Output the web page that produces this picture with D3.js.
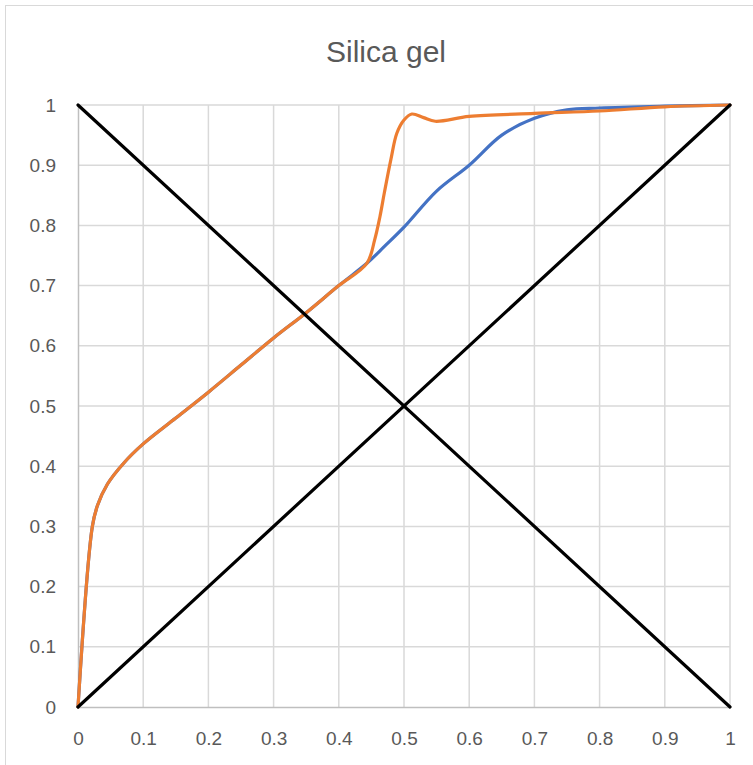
<!DOCTYPE html>
<html>
<head>
<meta charset="utf-8">
<script src="https://cdn.jsdelivr.net/npm/d3@7"></script>
<style>
  body { margin: 0; background: #fff; }
  svg { display: block; font-family: "Liberation Sans", Arial, sans-serif; }
</style>
</head>
<body>
<script>
'use strict';

// chart data
const title = 'Silica gel';
const ticks = [0, 0.1, 0.2, 0.3, 0.4, 0.5, 0.6, 0.7, 0.8, 0.9, 1];

const blueX = [0, 0.022, 0.03, 0.045, 0.07, 0.1, 0.15, 0.2, 0.25, 0.3, 0.35, 0.4, 0.443,
  0.47, 0.5, 0.55, 0.6, 0.65, 0.7, 0.75, 0.8, 0.9, 1];
const blueY = [0, 0.30, 0.335, 0.37, 0.405, 0.437, 0.48, 0.523, 0.568, 0.613, 0.655, 0.70, 0.737,
  0.765, 0.797, 0.857, 0.90, 0.95, 0.978, 0.992, 0.995, 0.998, 1];

const orangeX = [0, 0.022, 0.03, 0.045, 0.07, 0.1, 0.15, 0.2, 0.25, 0.3, 0.35, 0.4, 0.443,
  0.455, 0.463, 0.47, 0.48, 0.489, 0.5, 0.512, 0.53, 0.548, 0.6, 0.7, 0.8, 0.9, 1];
const orangeY = [0, 0.30, 0.335, 0.37, 0.405, 0.437, 0.48, 0.523, 0.568, 0.613, 0.655, 0.70, 0.737,
  0.776, 0.814, 0.855, 0.91, 0.953, 0.975, 0.985, 0.979, 0.973, 0.981, 0.986, 0.99, 0.997, 1];

const diagUpX = [0, 1];
const diagUpY = [0, 1];
const diagDownX = [0, 1];
const diagDownY = [1, 0];

const width = 753;
const height = 765;
const margin = { top: 105, right: 23, bottom: 58, left: 78 };

const svg = d3.select('body').append('svg')
  .attr('width', width)
  .attr('height', height);

// chart frame (cropped on right and bottom)
svg.append('rect')
  .attr('x', 5.5).attr('y', 5.5)
  .attr('width', width + 20).attr('height', height + 20)
  .attr('fill', '#fff')
  .attr('stroke', '#d9d9d9')
  .attr('stroke-width', 1);

const x = d3.scaleLinear().domain([0, 1]).range([margin.left, width - margin.right]);
const y = d3.scaleLinear().domain([0, 1]).range([height - margin.bottom, margin.top]);

svg.append('text')
  .attr('x', 386)
  .attr('y', 62)
  .attr('text-anchor', 'middle')
  .attr('fill', '#595959')
  .style('font-size', '30px')
  .text(title);

// gridlines
const grid = svg.append('g');
grid.selectAll('line.v')
  .data(ticks.slice(1))
  .enter().append('line')
  .attr('class', 'v')
  .attr('x1', function(d) { return x(d); })
  .attr('x2', function(d) { return x(d); })
  .attr('y1', y(0))
  .attr('y2', y(1))
  .attr('stroke', '#d9d9d9')
  .attr('stroke-width', 1.5);
grid.selectAll('line.h')
  .data(ticks.slice(1))
  .enter().append('line')
  .attr('class', 'h')
  .attr('x1', x(0))
  .attr('x2', x(1))
  .attr('y1', function(d) { return y(d); })
  .attr('y2', function(d) { return y(d); })
  .attr('stroke', '#d9d9d9')
  .attr('stroke-width', 1.5);

// axes
const xAxis = svg.append('g')
  .attr('transform', 'translate(0,' + y(0) + ')')
  .call(d3.axisBottom(x).tickValues(ticks).tickSize(0).tickPadding(25).tickFormat(d3.format('')));
const yAxis = svg.append('g')
  .attr('transform', 'translate(' + x(0) + ',0)')
  .call(d3.axisLeft(y).tickValues(ticks).tickSize(0).tickPadding(22).tickFormat(d3.format('')));

[xAxis, yAxis].forEach(function(ax) {
  ax.select('.domain').attr('stroke', '#bfbfbf').attr('stroke-width', 1.5);
  ax.selectAll('text')
    .attr('fill', '#595959')
    .style('font-size', '19px')
    .style('font-family', '"Liberation Sans", Arial, sans-serif');
});
xAxis.selectAll('text').attr('dy', '0.71em');

// series
const line = d3.line()
  .x(function(d) { return x(d[0]); })
  .y(function(d) { return y(d[1]); })
  .curve(d3.curveCatmullRom.alpha(0.5));

function pairs(xs, ys) {
  return xs.map(function(v, i) { return [v, ys[i]]; });
}

const series = [
  { pts: pairs(blueX, blueY), color: '#4472c4' },
  { pts: pairs(orangeX, orangeY), color: '#ed7d31' },
  { pts: pairs(diagUpX, diagUpY), color: '#000000' },
  { pts: pairs(diagDownX, diagDownY), color: '#000000' },
];

svg.append('g').selectAll('path')
  .data(series)
  .enter().append('path')
  .attr('d', function(d) { return line(d.pts); })
  .attr('fill', 'none')
  .attr('stroke', function(d) { return d.color; })
  .attr('stroke-width', 3.2)
  .attr('stroke-linejoin', 'round')
  .attr('stroke-linecap', 'round');
</script>
</body>
</html>
